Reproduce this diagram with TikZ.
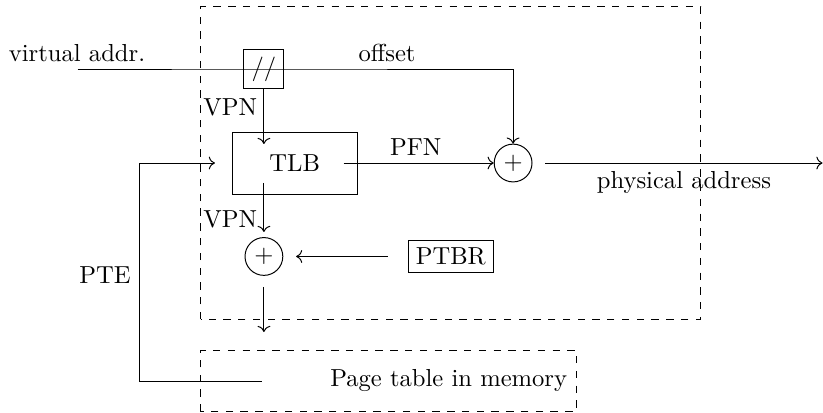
\documentclass[tikz,border=0pt]{standalone}
\usepackage{tikz}
\usetikzlibrary{arrows.meta,positioning,calc}
\tikzset{
  blk/.style={draw,align=center,inner sep=3pt},
  sumnode/.style={draw,circle,minimum size=0.54cm,inner sep=0pt},
  arr/.style={->},
  dbox/.style={draw,dashed},
  lbl/.style={inner sep=1pt},
}
\begin{document}
\begin{tikzpicture}[x=1cm,y=1cm]
  \useasboundingbox (0,0) rectangle (11.757,5.9);
  % dashed frames: MMU and memory
  \draw[dbox] (2.87,1.34) rectangle (10.01,5.80);
  \draw[dbox] (2.87,0.02) rectangle (8.23,0.9);

  \node (vaddr) at (1.1,5.14) {virtual addr.};
  \node[blk,minimum width=0.57cm,minimum height=0.57cm,inner sep=0pt] (split) at (3.77,4.914) {//};
  \node[lbl] (offs) at (5.53,5.14) {offset};
  \node[blk,minimum width=1.79cm,minimum height=0.886cm] (tlb) at (4.21,3.57) {TLB};
  \node[sumnode] (sumpa) at (7.33,3.571) {$+$};
  \node[sumnode] (sumpt) at (3.77,2.236) {$+$};
  \node[blk] (ptbr) at (6.44,2.236) {PTBR};
  \node (ptmem) at (6.41,0.471) {Page table in memory};

  \node[lbl] at (3.29,4.37) {VPN};
  \node[lbl] at (3.29,2.77) {VPN};
  \node[lbl] at (5.94,3.8) {PFN};
  \node[lbl] at (1.5,1.97) {PTE};
  \node[lbl] at (9.77,3.3) {physical address};

  \coordinate (vin) at (1.11,4.914);
  \coordinate (tlbtop) at (3.77,3.843);
  \coordinate (tlbright) at (4.91,3.571);
  \coordinate (tlbbot) at (3.77,3.286);
  \coordinate (tlbleft) at (3.07,3.571);
  \coordinate (sumtop) at (3.77,2.586);
  \coordinate (paout) at (7.79,3.571);
  \coordinate (paend) at (11.75,3.571);
  \coordinate (ptbrout) at (5.54,2.236);
  \coordinate (sumin) at (4.23,2.236);
  \coordinate (sumout) at (3.77,1.8);
  \coordinate (memin) at (3.77,1.157);
  \coordinate (pteout) at (3.74,0.443);
  \coordinate (ptecorner) at (1.99,0.443);

  \draw[arr] (vin) -- (split.center) -| (sumpa);
  \draw[arr] (split) -- (tlbtop);
  \draw[arr] (tlbright) -- (sumpa);
  \draw[arr] (paout) -- (paend);
  \draw[arr] (tlbbot) -- (sumtop);
  \draw[arr] (ptbrout) -- (sumin);
  \draw[arr] (sumout) -- (memin);
  \draw[arr] (pteout) -- (ptecorner) |- (tlbleft);
\end{tikzpicture}
\end{document}
